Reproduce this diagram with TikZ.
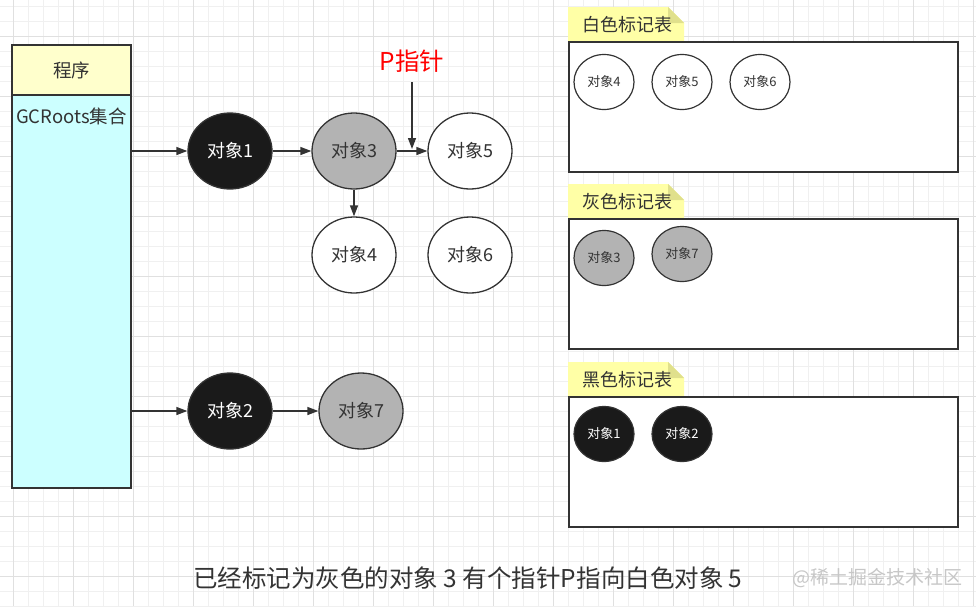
\documentclass[tikz,border=0pt]{standalone}
\usepackage{fontspec}
\setmainfont{Noto Sans CJK SC}
\usetikzlibrary{shapes.geometric,arrows.meta}
\definecolor{lineC}{HTML}{333333}
\definecolor{txt}{HTML}{333333}
\definecolor{objblack}{HTML}{1A1A1A}
\definecolor{objgray}{HTML}{B3B3B3}
\definecolor{progyellow}{HTML}{FFFFCC}
\definecolor{rootscyan}{HTML}{CCFFFF}
\definecolor{tabfill}{HTML}{FFFFA6}
\definecolor{tabfold}{HTML}{E0E08C}
\definecolor{gridminor}{HTML}{F0F0F0}
\definecolor{gridmajor}{HTML}{E0E0E0}
\tikzset{
  obj/.style={ellipse, draw=lineC, line width=1.3pt, minimum width=84pt, minimum height=76pt, inner sep=0pt, font=\fontsize{18}{21}\selectfont},
  blackobj/.style={obj, fill=objblack, text=white},
  grayobj/.style={obj, fill=objgray, text=txt},
  whiteobj/.style={obj, fill=white, text=txt},
  smallobj/.style={ellipse, draw=lineC, line width=1.2pt, minimum width=60pt, minimum height=55pt, inner sep=0pt, font=\fontsize{13}{15}\selectfont},
  sblack/.style={smallobj, fill=objblack, text=white},
  sgray/.style={smallobj, fill=objgray, text=txt},
  swhite/.style={smallobj, fill=white, text=txt},
  arr/.style={draw=lineC, line width=1.3pt, -{Triangle[length=11pt,width=8pt]}},
  tablebox/.style={draw=lineC, line width=1.5pt, fill=white, minimum width=389pt, minimum height=130pt, anchor=north west, inner sep=0pt},
  tablabel/.style={font=\fontsize{18}{21}\selectfont, text=txt},
}
\begin{document}
\begin{tikzpicture}[x=1pt,y=-1pt]
\useasboundingbox (0,0) rectangle (976,606);
\fill[white] (0,0) rectangle (976,606);
% grid
\foreach \i in {0,...,65} { \draw[gridminor, line width=0.8pt] ({-2+15*\i},0) -- ({-2+15*\i},606); }
\foreach \i in {0,...,40} { \draw[gridminor, line width=0.8pt] (0,{6+15*\i}) -- (976,{6+15*\i}); }
\foreach \i in {0,...,16} { \draw[gridmajor, line width=0.8pt] ({13+60*\i},0) -- ({13+60*\i},606); }
\foreach \i in {0,...,9} { \draw[gridmajor, line width=0.8pt] (0,{36+60*\i}) -- (976,{36+60*\i}); }

% program box
\node[draw=lineC, line width=1.5pt, fill=progyellow, minimum width=119pt, minimum height=50pt, inner sep=0pt, font=\fontsize{18.5}{22}\selectfont, text=txt] (prog) at (71.5,70) {程序};
\node[draw=lineC, line width=1.5pt, fill=rootscyan, minimum width=119pt, minimum height=393pt, inner sep=0pt,
  label={[anchor=north, yshift=-10pt, font=\fontsize{18.5}{22}\selectfont, text=txt]north:GCRoots集合}] (roots) at (71.5,291.5) {};

% objects
\node[blackobj] (o1) at (230,151) {对象1};
\node[grayobj]  (o3) at (354,151) {对象3};
\node[whiteobj] (o5) at (470,151) {对象5};
\node[whiteobj] (o4) at (354,255) {对象4};
\node[whiteobj] (o6) at (470,255) {对象6};
\node[blackobj] (o2) at (230,411) {对象2};
\node[grayobj]  (o7) at (361,411) {对象7};

\draw[arr] (roots.east |- o1) -- (o1);
\draw[arr] (o1) -- (o3);
\draw[arr] (o3) -- (o5);
\draw[arr] (o3) -- (o4);
\draw[arr] (roots.east |- o2) -- (o2);
\draw[arr] (o2) -- (o7);

% P pointer
\node[text=red, font=\fontsize{24.5}{29}\selectfont] (ptext) at (412,61) {P指针};
\coordinate (pstart) at (412,82);
\coordinate (pend) at (412,149);
\draw[arr] (pstart) -- (pend);

% tables
\foreach \ty/\lab/\nm in {7/白色标记表/wtab, 184/灰色标记表/gtab, 362/黑色标记表/btab} {
  \fill[tabfill] (568,\ty) -- (668,\ty) -- (684,\ty+16) -- (684,\ty+34) -- (568,\ty+34) -- cycle;
  \fill[tabfold] (668,\ty) -- (684,\ty+16) -- (668,\ty+16) -- cycle;
  \node[tablabel] (\nm) at (627,\ty+18) {\lab};
}
\node[tablebox] (wt) at (568,41) {};
\node[tablebox] (gt) at (568,218) {};
\node[tablebox] (bt) at (568,396) {};

\node[swhite] (w4) at (604,82) {对象4};
\node[swhite] (w5) at (682,82) {对象5};
\node[swhite] (w6) at (760,82) {对象6};
\node[sgray] (g3) at (604,258) {对象3};
\node[sgray] (g7) at (682,254) {对象7};
\node[sblack] (b1) at (604,434) {对象1};
\node[sblack] (b2) at (682,434) {对象2};

% caption
\node[text=txt, font=\fontsize{24.5}{29}\selectfont] (cap) at (468,578) {已经标记为灰色的对象 3 有个指针P指向白色对象 5};
\node[text=black!22, font=\fontsize{19}{23}\selectfont] (wm) at (877,578) {@稀土掘金技术社区};
\end{tikzpicture}
\end{document}
